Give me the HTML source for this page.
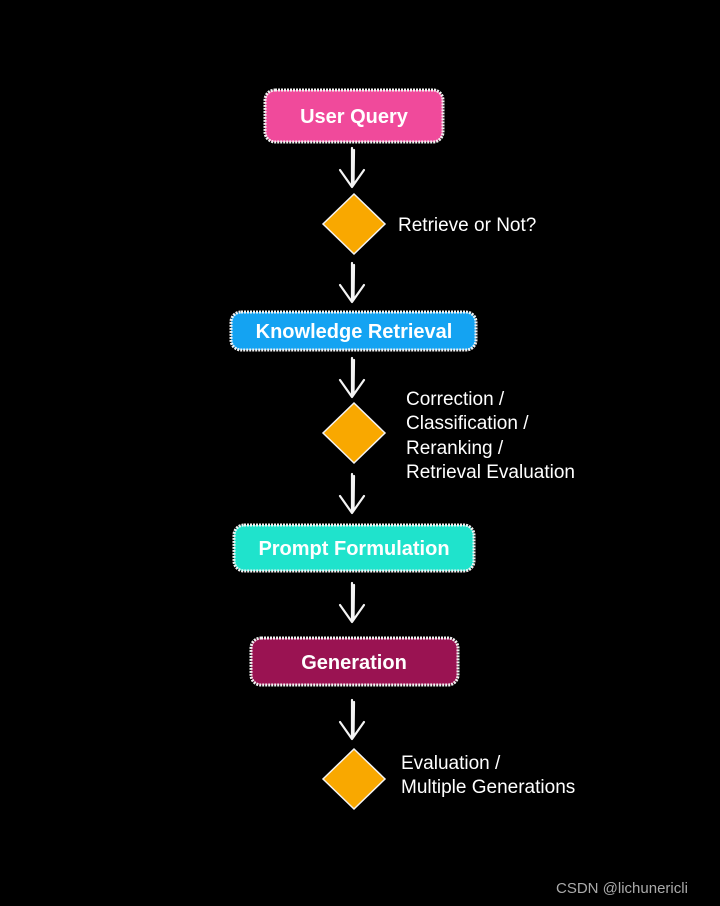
<!DOCTYPE html>
<html><head><meta charset="utf-8"><style>
html,body{margin:0;padding:0;background:#000;}
svg{display:block}
text{font-family:"Liberation Sans",Arial,sans-serif;}
</style></head><body>
<svg width="720" height="906" viewBox="0 0 720 906" xmlns="http://www.w3.org/2000/svg">
<rect width="720" height="906" fill="#000"/>
<defs>
<g id="arr" fill="none" stroke="#f4f4f4" stroke-width="2.2" stroke-linecap="round" stroke-linejoin="round">
<line x1="0" y1="0" x2="0" y2="38"/>
<line x1="2" y1="2" x2="1.5" y2="36"/>
<polyline points="-12,22 0,39 12,22"/>
</g>
</defs>
<g stroke="#f2f2f2" stroke-width="3" stroke-dasharray="2 1">
<rect x="265" y="90" width="178" height="52" rx="10" fill="#f04a9b"/>
<rect x="231" y="312" width="245" height="38" rx="10" fill="#14a3f2"/>
<rect x="234" y="525" width="240" height="46" rx="10" fill="#1fe3cc"/>
<rect x="251" y="638" width="207" height="47" rx="10" fill="#9a1352"/>
</g>
<g fill="#fff" font-weight="bold" font-size="20" text-anchor="middle">
<text x="354" y="123">User Query</text>
<text x="354" y="338">Knowledge Retrieval</text>
<text x="354" y="555">Prompt Formulation</text>
<text x="354" y="669">Generation</text>
</g>
<g fill="#f9a800" stroke="#f4f4f4" stroke-width="1.5">
<polygon points="354,194 385,224 354,254 323,224"/>
<polygon points="354,403 385,433 354,463 323,433"/>
<polygon points="354,749 385,779 354,809 323,779"/>
</g>
<use href="#arr" x="352" y="148"/>
<use href="#arr" x="352" y="263"/>
<use href="#arr" x="352" y="358"/>
<use href="#arr" x="352" y="474"/>
<use href="#arr" x="352" y="583"/>
<use href="#arr" x="352" y="700"/>
<g fill="#fff" font-size="19">
<text x="398" y="231">Retrieve or Not?</text>
<text x="406" y="405">Correction /</text>
<text x="406" y="429">Classification /</text>
<text x="406" y="454">Reranking /</text>
<text x="406" y="478">Retrieval Evaluation</text>
<text x="401" y="769">Evaluation /</text>
<text x="401" y="793">Multiple Generations</text>
</g>
<text x="556" y="893" fill="#aaa" font-size="15">CSDN @lichunericli</text>
</svg>
</body></html>
